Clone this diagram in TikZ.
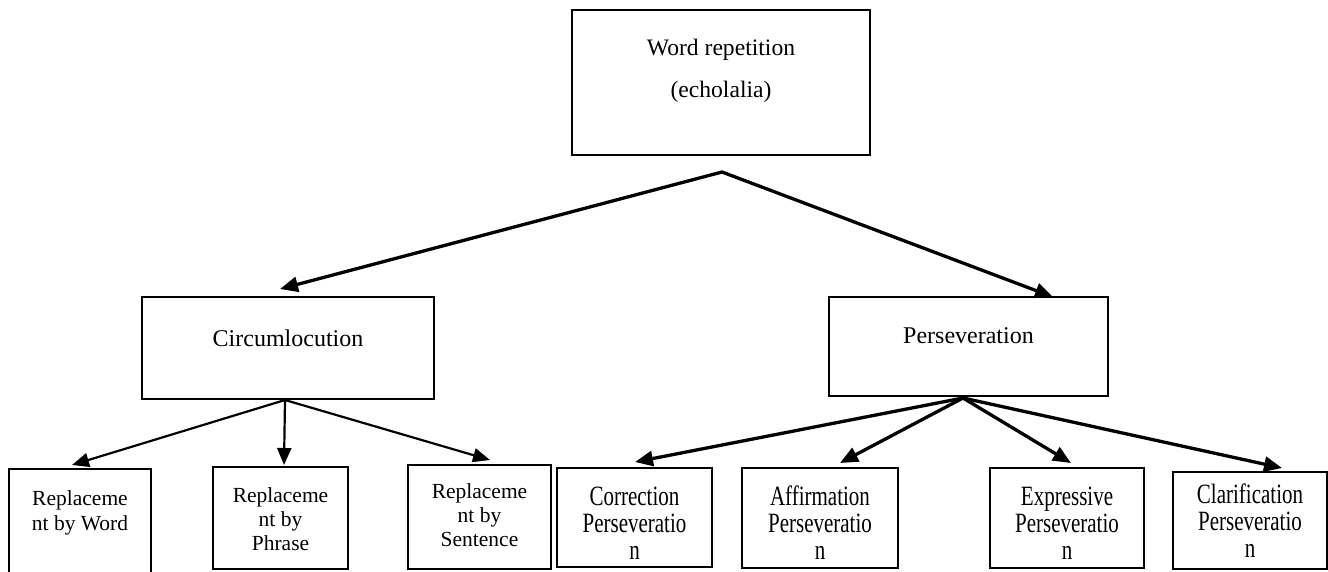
\documentclass[tikz,border=0pt]{standalone}
\usepackage{fontspec}
\setmainfont{Liberation Serif}
\usepackage{graphicx}
\usetikzlibrary{arrows.meta}
% narrow, tall lettering used in the Perseveration leaves
\newcommand{\tallstack}[1]{\scalebox{1}[1.33]{\fontsize{21}{20.4}\selectfont\begin{tabular}{@{}c@{}}#1\end{tabular}}}
\begin{document}
\begin{tikzpicture}[x=1pt,y=-1pt,
  box/.style={draw, line width=2.3pt, inner sep=0pt},
  txt/.style={inner sep=0pt, align=center},
  conn/.style={line width=3.3pt, -{Triangle[length=18pt,width=15pt]}},
  lightconn/.style={line width=2.2pt, -{Triangle[length=17pt,width=14pt]}}]
\useasboundingbox (0,0) rectangle (1328,571);

% boxes
\node[box, minimum width=298pt, minimum height=145pt] (top)  at (721,82.5) {};
\node[box, minimum width=292pt, minimum height=102pt] (circ) at (288,348) {};
\node[box, minimum width=279pt, minimum height=99pt]  (pers) at (968.5,346.5) {};
\node[box, minimum width=142pt, minimum height=111pt] (b1) at (80,524.5) {};
\node[box, minimum width=135pt, minimum height=102pt] (b2) at (280.5,518) {};
\node[box, minimum width=143pt, minimum height=104pt] (b3) at (479.5,517) {};
\node[box, minimum width=155pt, minimum height=99pt]  (b4) at (634.5,517.5) {};
\node[box, minimum width=156pt, minimum height=100pt] (b5) at (820,518) {};
\node[box, minimum width=154pt, minimum height=100pt] (b6) at (1067,518) {};
\node[box, minimum width=154pt, minimum height=97pt]  (b7) at (1250,520.5) {};

% texts
\node[txt, font=\fontsize{23.6}{42}\selectfont] (ttop) at (721,71) {Word repetition\\(echolalia)};
\node[txt, font=\fontsize{24}{28}\selectfont] (tcirc) at (288,338) {Circumlocution};
\node[txt, font=\fontsize{24}{28}\selectfont] (tpers) at (968.5,336) {Perseveration};
\node[txt, font=\fontsize{21.5}{24.5}\selectfont] (tb1) at (80,513) {Replaceme\\nt by Word};
\node[txt, font=\fontsize{21.5}{24}\selectfont] (tb2) at (280.5,519) {Replaceme\\nt by\\Phrase};
\node[txt, font=\fontsize{21.5}{24}\selectfont] (tb3) at (479.5,515) {Replaceme\\nt by\\Sentence};
\node[txt] (tb4) at (634.5,527) {\tallstack{Correction\\Perseveratio\\n}};
\node[txt] (tb5) at (820,527) {\tallstack{Affirmation\\Perseveratio\\n}};
\node[txt] (tb6) at (1067,527) {\tallstack{Expressive\\Perseveratio\\n}};
\node[txt] (tb7) at (1250,525) {\tallstack{Clarification\\Perseveratio\\n}};

% branching points and arrow ends
\coordinate (apex) at (722,172);
\coordinate (cf) at (285,400);
\coordinate (pf) at (963,398);
\coordinate (acirc) at (280,289);
\coordinate (apers) at (1053,297);
\coordinate (a1) at (72,465);
\coordinate (a2) at (284,465);
\coordinate (a3) at (490,460);
\coordinate (a4) at (635,462);
\coordinate (a5) at (840,463);
\coordinate (a6) at (1071,463);
\coordinate (a7) at (1282,468);

% connectors
\draw[line width=3.3pt, {Triangle[length=18pt,width=15pt]}-{Triangle[length=18pt,width=15pt]}] (acirc) -- (apex) -- (apers);
\draw[lightconn] (cf) -- (a1);
\draw[lightconn] (cf) -- (a2);
\draw[lightconn] (cf) -- (a3);
\draw[conn] (pf) -- (a4);
\draw[conn] (pf) -- (a5);
\draw[conn] (pf) -- (a6);
\draw[conn] (pf) -- (a7);
\end{tikzpicture}
\end{document}
